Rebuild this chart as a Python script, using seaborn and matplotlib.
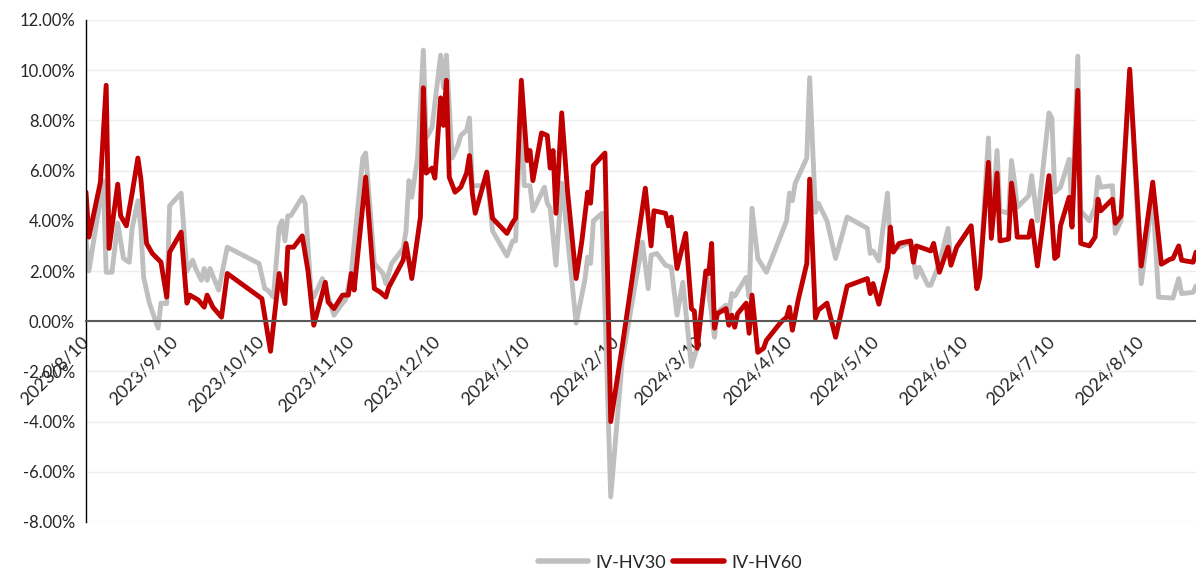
import matplotlib
matplotlib.use("Agg")
import matplotlib.pyplot as plt
from matplotlib.lines import Line2D
import seaborn as sns
import pandas as pd

# data: days since 2023-08-10 and spread in %
start = pd.Timestamp("2023-08-10")

hv30_days = [0, 1, 6, 7, 9, 11, 13, 15, 16, 18, 19, 20, 22, 25, 26, 28, 29, 33, 35, 37,
             38, 40, 41, 42, 43, 46, 49, 60, 62, 63, 65, 67, 68, 69, 70, 71, 75, 76, 78, 79,
             82, 86, 89, 90, 92, 95, 96, 97, 100, 103, 104, 106, 110, 111, 112, 113, 115, 117, 118, 120,
             123, 124, 125, 127, 129, 130, 132, 133, 134, 138, 139, 141, 146, 148, 149, 151, 152, 154, 155, 159,
             160, 161, 163, 165, 166, 170, 173, 174, 175, 176, 179, 182, 186, 193, 195, 196, 198, 201, 203, 205,
             207, 210, 212, 215, 218, 219, 222, 223, 224, 225, 229, 230, 231, 233, 236, 243, 244, 245, 246, 250,
             251, 253, 254, 257, 260, 264, 271, 272, 273, 275, 278, 279, 283, 286, 288, 289, 292, 293, 296, 299,
             300, 302, 307, 309, 310, 313, 314, 316, 317, 320, 321, 322, 323, 327, 328, 330, 334, 335, 336, 338,
             341, 342, 344, 345, 348, 350, 351, 352, 356, 357, 359, 362, 366, 370, 372, 377, 379, 380, 384, 385]
hv30_vals = [3.3, 2.0, 5.6, 1.95, 1.95, 3.9, 2.5, 2.35, 3.7, 4.8, 3.75, 1.75, 0.72, -0.28, 0.72, 0.7, 4.6, 5.1, 2.0, 2.43,
             2.1, 1.63, 2.1, 1.63, 2.1, 1.24, 2.95, 2.3, 1.3, 1.24, 0.96, 3.75, 4.0, 3.2, 4.2, 4.2, 4.94, 4.7, 1.24, 0.96,
             1.7, 0.24, 0.72, 0.84, 1.9, 5.34, 6.5, 6.7, 2.3, 1.9, 1.5, 2.3, 2.9, 3.6, 5.6, 4.94, 6.5, 10.8, 7.3, 7.7,
             10.6, 9.3, 10.6, 6.5, 7.0, 7.4, 7.6, 8.1, 5.4, 5.4, 5.94, 3.6, 2.6, 3.2, 3.2, 8.5, 5.4, 5.4, 4.4, 5.34,
             4.7, 4.5, 2.23, 5.5, 4.5, -0.08, 1.63, 2.55, 2.3, 4.0, 4.3, -7.0, -1.55, 3.15, 1.3, 2.63, 2.7, 2.23, 2.15, 0.24,
             1.55, -1.8, -1.04, 2.0, -0.64, 0.36, 0.64, 0.3, 1.1, 1.0, 1.75, 0.96, 4.5, 2.5, 1.95, 4.0, 5.1, 4.8, 5.5, 6.5,
             9.7, 4.34, 4.7, 4.0, 2.5, 4.15, 3.7, 2.7, 2.8, 2.4, 5.1, 2.8, 3.0, 3.15, 1.75, 2.15, 1.43, 1.43, 2.3, 3.7,
             2.3, 2.95, 3.8, 1.3, 1.75, 7.3, 3.75, 6.8, 4.4, 4.3, 6.4, 5.6, 4.54, 5.0, 5.8, 4.0, 8.3, 8.1, 5.14, 5.34,
             6.45, 4.3, 10.56, 4.4, 4.0, 4.54, 5.74, 5.34, 5.4, 3.5, 4.0, 9.9, 1.5, 5.0, 0.96, 0.92, 1.7, 1.1, 1.15, 1.4]

hv60_days = [0, 1, 5, 7, 8, 11, 12, 14, 16, 18, 19, 21, 23, 26, 28, 29, 33, 35, 36, 39,
             41, 42, 44, 47, 49, 61, 64, 67, 69, 70, 72, 75, 77, 79, 83, 84, 86, 89, 91, 92,
             93, 97, 100, 102, 104, 105, 110, 111, 113, 116, 117, 118, 120, 121, 123, 124, 125, 126, 128, 130,
             132, 133, 134, 135, 139, 141, 146, 148, 149, 151, 153, 154, 155, 158, 160, 161, 162, 163, 165, 167,
             170, 172, 174, 175, 176, 180, 182, 186, 194, 196, 197, 201, 202, 203, 205, 208, 210, 211, 212, 215,
             216, 217, 218, 219, 222, 223, 224, 225, 226, 229, 230, 231, 233, 235, 236, 241, 243, 244, 245, 247,
             250, 251, 253, 254, 257, 260, 264, 271, 272, 273, 275, 278, 279, 280, 282, 286, 287, 288, 293, 294,
             296, 299, 300, 302, 307, 309, 310, 313, 314, 316, 317, 320, 321, 322, 323, 327, 328, 330, 334, 336,
             337, 338, 341, 342, 344, 345, 348, 350, 351, 352, 356, 357, 359, 362, 366, 370, 373, 376, 377, 379,
             380, 384, 385]
hv60_vals = [5.14, 3.35, 5.54, 9.4, 2.9, 5.46, 4.2, 3.8, 5.1, 6.5, 5.7, 3.1, 2.7, 2.35, 0.96, 2.75, 3.55, 0.72, 1.04, 0.84,
             0.56, 1.04, 0.56, 0.16, 1.9, 0.9, -1.2, 1.9, 0.7, 2.95, 2.95, 3.4, 2.0, -0.16, 1.55, 0.76, 0.5, 1.04, 1.04, 1.9,
             1.24, 5.74, 1.3, 1.16, 0.96, 1.35, 2.43, 3.1, 1.7, 4.15, 9.3, 5.9, 6.1, 5.7, 8.9, 7.8, 9.6, 5.74, 5.14, 5.34,
             5.9, 6.6, 5.1, 4.3, 5.94, 4.1, 3.5, 3.94, 4.1, 9.6, 6.4, 6.8, 5.6, 7.5, 7.4, 6.1, 6.8, 4.3, 8.3, 5.2,
             1.7, 3.2, 5.14, 4.7, 6.2, 6.7, -4.0, -1.0, 5.3, 3.0, 4.4, 4.3, 3.8, 4.15, 2.1, 3.5, 0.5, 0.4, -1.08, 2.0,
             1.9, 3.1, -0.28, 0.3, 0.5, -0.16, 0.24, -0.24, 0.3, 0.72, -0.48, 1.04, -1.24, -1.08, -0.76, -0.04, 0.16, 0.56, -0.36, 0.84,
             2.3, 5.66, 0.12, 0.44, 0.72, -0.64, 1.4, 1.7, 1.1, 1.5, 0.68, 2.15, 3.75, 2.75, 3.1, 3.2, 2.35, 3.0, 2.8, 3.1,
             1.95, 2.95, 2.23, 2.95, 3.8, 1.3, 1.75, 6.33, 3.3, 5.9, 3.2, 3.27, 5.5, 4.7, 3.35, 3.35, 4.0, 2.2, 5.8, 2.5,
             2.6, 3.8, 4.94, 3.75, 9.2, 3.1, 3.0, 3.35, 4.86, 4.4, 4.86, 3.9, 4.2, 10.04, 2.2, 5.54, 2.27, 2.47, 2.5, 3.0,
             2.43, 2.35, 2.75]

series_names = ["IV-HV30", "IV-HV60"]
series_colors = ["#BFBFBF", "#C00000"]
y_ticks = list(range(-8, 13, 2))
y_tick_labels = [f"{v:.2f}%" for v in y_ticks]
x_tick_dates = [start + pd.DateOffset(months=i) for i in range(13)]
x_tick_labels = [f"{d.year}/{d.month}/{d.day}" for d in x_tick_dates]

df = pd.concat([
    pd.DataFrame({"date": start + pd.to_timedelta(hv30_days, unit="D"), "value": hv30_vals, "series": series_names[0]}),
    pd.DataFrame({"date": start + pd.to_timedelta(hv60_days, unit="D"), "value": hv60_vals, "series": series_names[1]}),
], ignore_index=True)

sns.set_style("white")
plt.rcParams["font.family"] = ["Lato", "DejaVu Sans"]

fig = plt.figure(figsize=(11.96, 5.74), dpi=100)
ax = fig.add_axes([86 / 1196, 52 / 574, 1 - 86 / 1196, 502 / 574])

sns.lineplot(data=df, x="date", y="value", hue="series", hue_order=series_names,
             palette=dict(zip(series_names, series_colors)), linewidth=3.5,
             estimator=None, sort=False, legend=False, ax=ax)

ax.set_ylim(-8, 12)
ax.set_xlim(start, start + pd.Timedelta(days=385))
ax.set_yticks(y_ticks)
ax.set_yticklabels(y_tick_labels, fontsize=12)
ax.set_xticks(x_tick_dates)
ax.set_xticklabels(x_tick_labels)
ax.set_xlabel("")
ax.set_ylabel("")

ax.yaxis.grid(True, color="#EDEDED", linewidth=1)
ax.set_axisbelow(True)
for s in ["top", "right"]:
    ax.spines[s].set_visible(False)
ax.spines["bottom"].set_position(("data", 0))
ax.spines["bottom"].set_color("#595959")
ax.spines["bottom"].set_linewidth(1.5)
ax.spines["left"].set_color("black")
ax.spines["left"].set_linewidth(1)
ax.tick_params(axis="x", direction="out", length=6, width=1, color="#595959", pad=7)
ax.tick_params(axis="y", direction="out", length=5, width=1, color="black", pad=3)
for lab in ax.get_xticklabels():
    lab.set_fontsize(13)
    lab.set_rotation(45)
    lab.set_ha("right")
    lab.set_va("center")
    lab.set_rotation_mode("anchor")

handles = [Line2D([], [], color=c, linewidth=4) for c in series_colors]
fig.legend(handles, series_names, loc="center", bbox_to_anchor=(0.56, 0.02), ncol=2,
           frameon=False, fontsize=13, handlelength=2.8, handletextpad=0.4, columnspacing=0.4)

fig.savefig("out.png", dpi=100)
